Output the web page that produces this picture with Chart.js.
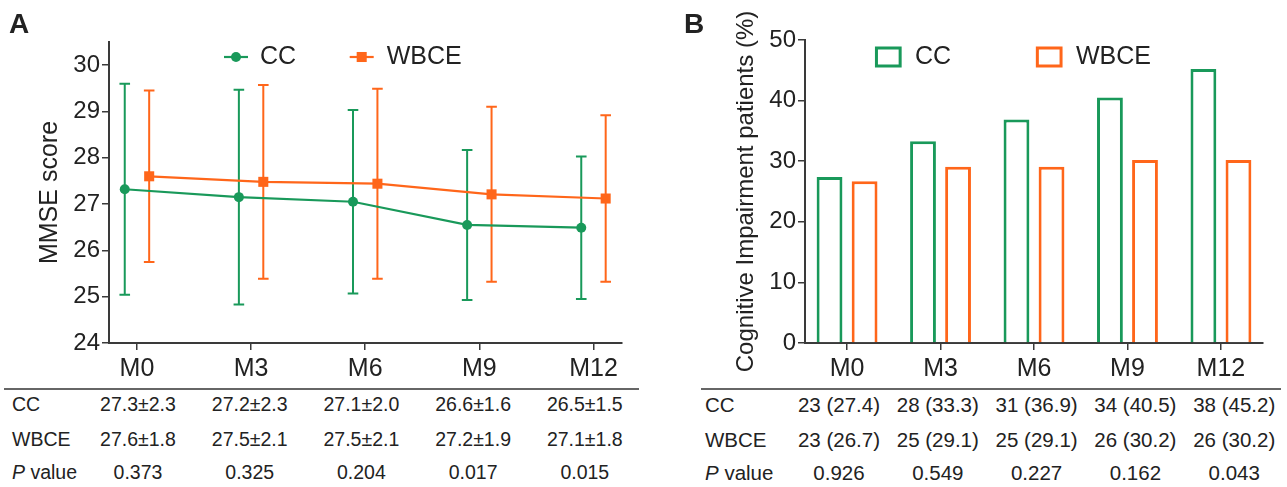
<!DOCTYPE html>
<html lang="en">
<head>
    <meta charset="UTF-8">
    <title>MMSE score and cognitive impairment, CC vs WBCE</title>
    <script src="https://cdn.jsdelivr.net/npm/chart.js"></script>
    <style>
        body { margin: 0; background: #fff; color: #222; font-family: 'Liberation Sans', Arial, sans-serif; }
        #page { position: relative; width: 1287px; height: 487px; overflow: hidden; }
        canvas { position: absolute; top: 0; }
        .panel-label { position: absolute; top: 10px; font-size: 28px; font-weight: bold; line-height: 1; }
        .rule { position: absolute; height: 2px; background: #666; }
        .cell { position: absolute; white-space: nowrap; line-height: 1; transform: translate(-50%, -50%); }
        .rowlabel { position: absolute; white-space: nowrap; line-height: 1; transform: translateY(-50%); }
    </style>
</head>
<body>
<div id="page">
    <canvas id="chartA" width="650" height="385" style="left:0"></canvas>
    <canvas id="chartB" width="627" height="385" style="left:660px"></canvas>
    <div class="panel-label" style="left:9px">A</div>
    <div class="panel-label" style="left:684px">B</div>
    <div id="tableA"></div>
    <div id="tableB"></div>
</div>
<script>
    // time points
    var months = ['M0', 'M3', 'M6', 'M9', 'M12'];

    // panel A: MMSE score, mean and SD
    var ccMean = [27.32, 27.15, 27.05, 26.55, 26.49];
    var ccSd = [2.28, 2.32, 1.98, 1.62, 1.54];
    var wbceMean = [27.60, 27.48, 27.44, 27.21, 27.12];
    var wbceSd = [1.85, 2.09, 2.05, 1.89, 1.80];

    // panel A table
    var ccScoreText = ['27.3±2.3', '27.2±2.3', '27.1±2.0', '26.6±1.6', '26.5±1.5'];
    var wbceScoreText = ['27.6±1.8', '27.5±2.1', '27.5±2.1', '27.2±1.9', '27.1±1.8'];
    var pScore = ['0.373', '0.325', '0.204', '0.017', '0.015'];

    // panel B: cognitive impairment patients, n and %
    var ccCount = [23, 28, 31, 34, 38];
    var ccPct = [27.4, 33.3, 36.9, 40.5, 45.2];
    var wbceCount = [23, 25, 25, 26, 26];
    var wbcePct = [26.7, 29.1, 29.1, 30.2, 30.2];
    var pImpair = ['0.926', '0.549', '0.227', '0.162', '0.043'];

    var green = '#19995a';
    var orange = '#ff661a';
    var axisColor = '#3a3a3a';
    var offsetA = 0.107; // side-by-side shift of the two groups in panel A

    Chart.defaults.font.family = "'Liberation Sans', Arial, sans-serif";
    Chart.defaults.color = '#222';

    // vertical SD bars with caps, drawn under the lines
    var errorBars = {
        id: 'errorBars',
        beforeDatasetsDraw: function(chart, args, opts) {
            var ctx = chart.ctx, x = chart.scales.x, y = chart.scales.y;
            ctx.save();
            ctx.lineWidth = opts.width;
            chart.data.datasets.forEach(function(ds) {
                ctx.strokeStyle = ds.borderColor;
                ds.data.forEach(function(p, i) {
                    var px = x.getPixelForValue(p.x);
                    var top = y.getPixelForValue(p.y + ds.sd[i]);
                    var bot = y.getPixelForValue(p.y - ds.sd[i]);
                    ctx.beginPath();
                    ctx.moveTo(px, top); ctx.lineTo(px, bot);
                    ctx.moveTo(px - opts.cap, top); ctx.lineTo(px + opts.cap, top);
                    ctx.moveTo(px - opts.cap, bot); ctx.lineTo(px + opts.cap, bot);
                    ctx.stroke();
                });
            });
            ctx.restore();
        }
    };

    // legend row inside the plot area
    var keyRow = {
        id: 'keyRow',
        afterDraw: function(chart, args, opts) {
            var ctx = chart.ctx, left = chart.chartArea.left;
            ctx.save();
            ctx.font = opts.font;
            ctx.textBaseline = 'middle';
            chart.data.datasets.forEach(function(ds, i) {
                var item = opts.items[i];
                var cx = left + item.symbol, cy = opts.y;
                ctx.strokeStyle = ds.borderColor;
                ctx.fillStyle = ds.borderColor;
                if (chart.config.type === 'line') {
                    ctx.lineWidth = ds.borderWidth;
                    ctx.beginPath();
                    ctx.moveTo(cx - 12, cy); ctx.lineTo(cx + 12, cy);
                    ctx.stroke();
                    if (ds.pointStyle === 'rect') {
                        var h = ds.pointRadius * Math.SQRT1_2;
                        ctx.fillRect(cx - h, cy - h, 2 * h, 2 * h);
                    } else {
                        ctx.beginPath();
                        ctx.arc(cx, cy, ds.pointRadius, 0, 2 * Math.PI);
                        ctx.fill();
                    }
                } else {
                    var w = opts.box[0], bh = opts.box[1], lw = ds.borderWidth;
                    ctx.lineWidth = lw;
                    ctx.strokeRect(cx - w / 2 + lw / 2, cy - bh / 2 + lw / 2, w - lw, bh - lw);
                }
                ctx.fillStyle = '#222';
                ctx.fillText(ds.label, left + item.text, cy);
            });
            ctx.restore();
        }
    };

    function monthTicks(scale) {
        scale.ticks = months.map(function(m, i) { return { value: i }; });
    }

    // Panel A: MMSE score
    var chartA = new Chart(document.getElementById('chartA'), {
        type: 'line',
        data: {
            datasets: [{
                label: 'CC',
                data: months.map(function(m, i) { return { x: i - offsetA, y: ccMean[i] }; }),
                sd: ccSd,
                borderColor: green,
                backgroundColor: green,
                borderWidth: 2.2,
                pointStyle: 'circle',
                pointRadius: 5,
                pointBorderWidth: 0,
                tension: 0
            }, {
                label: 'WBCE',
                data: months.map(function(m, i) { return { x: i + offsetA, y: wbceMean[i] }; }),
                sd: wbceSd,
                borderColor: orange,
                backgroundColor: orange,
                borderWidth: 2.2,
                pointStyle: 'rect',
                pointRadius: 7.1,
                pointBorderWidth: 0,
                tension: 0
            }]
        },
        options: {
            responsive: false,
            animation: false,
            layout: { padding: { left: 0, right: 28, top: 42, bottom: 0 } },
            plugins: {
                legend: { display: false },
                tooltip: { enabled: false },
                errorBars: { width: 2, cap: 5.3 },
                keyRow: {
                    font: "25px 'Liberation Sans', Arial, sans-serif",
                    y: 57,
                    items: [{ symbol: 127, text: 151 }, { symbol: 252.7, text: 277.7 }]
                }
            },
            scales: {
                x: {
                    type: 'linear',
                    offset: false,
                    min: -0.245,
                    max: 4.25,
                    afterBuildTicks: monthTicks,
                    afterFit: function(s) { s.height = 42; },
                    ticks: {
                        callback: function(v) { return months[v]; },
                        font: { size: 25 },
                        padding: 4
                    },
                    grid: { drawOnChartArea: false, tickLength: 7, color: axisColor, lineWidth: 1.5 },
                    border: { color: axisColor, width: 2 }
                },
                y: {
                    min: 24,
                    max: 30.5,
                    afterFit: function(s) { s.width = 109; },
                    ticks: { stepSize: 1, includeBounds: false, font: { size: 24 }, padding: 2 },
                    grid: { drawOnChartArea: false, tickLength: 7, color: axisColor, lineWidth: 1.5 },
                    border: { color: axisColor, width: 2 },
                    title: { display: true, text: 'MMSE score', font: { size: 25 }, padding: { top: 35 } }
                }
            }
        },
        plugins: [errorBars, keyRow]
    });

    // Panel B: cognitive impairment patients (%)
    var chartB = new Chart(document.getElementById('chartB'), {
        type: 'bar',
        data: {
            datasets: [{
                label: 'CC',
                data: months.map(function(m, i) { return { x: i, y: ccPct[i] }; }),
                borderColor: green,
                backgroundColor: '#fff',
                borderWidth: 3,
                categoryPercentage: 0.75,
                barPercentage: 0.737
            }, {
                label: 'WBCE',
                data: months.map(function(m, i) { return { x: i, y: wbcePct[i] }; }),
                borderColor: orange,
                backgroundColor: '#fff',
                borderWidth: 3,
                categoryPercentage: 0.75,
                barPercentage: 0.737
            }]
        },
        options: {
            responsive: false,
            animation: false,
            layout: { padding: { left: 0, right: 24, top: 40, bottom: 0 } },
            plugins: {
                legend: { display: false },
                tooltip: { enabled: false },
                keyRow: {
                    font: "25px 'Liberation Sans', Arial, sans-serif",
                    y: 57,
                    box: [26.7, 21],
                    items: [{ symbol: 83.3, text: 110 }, { symbol: 244.2, text: 271 }]
                }
            },
            scales: {
                x: {
                    type: 'linear',
                    offset: false,
                    min: -0.45,
                    max: 4.45,
                    afterBuildTicks: monthTicks,
                    afterFit: function(s) { s.height = 42; },
                    ticks: {
                        callback: function(v) { return months[v]; },
                        font: { size: 25 },
                        padding: 4
                    },
                    grid: { drawOnChartArea: false, offset: false, tickLength: 7, color: axisColor, lineWidth: 1.5 },
                    border: { color: axisColor, width: 2 }
                },
                y: {
                    min: 0,
                    max: 50,
                    afterFit: function(s) { s.width = 145; },
                    ticks: { stepSize: 10, font: { size: 24 }, padding: 2 },
                    grid: { drawOnChartArea: false, tickLength: 7, color: axisColor, lineWidth: 1.5 },
                    border: { color: axisColor, width: 2 },
                    title: { display: true, text: 'Cognitive Impairment patients (%)', font: { size: 24 }, padding: { top: 72 } }
                }
            }
        },
        plugins: [keyRow]
    });

    // tables under the x axes
    function buildTable(el, t) {
        var html = '<div class="rule" style="left:' + t.ruleLeft + 'px;width:' + t.ruleWidth + 'px;top:388px"></div>';
        t.rows.forEach(function(row, r) {
            var y = t.rowY[r];
            html += '<div class="rowlabel" style="left:' + t.labelX + 'px;top:' + y + 'px;font-size:' + t.size + 'px">' + row[0] + '</div>';
            row[1].forEach(function(txt, i) {
                var x = t.firstCol + i * t.colStep;
                html += '<div class="cell" style="left:' + x + 'px;top:' + y + 'px;font-size:' + t.size + 'px">' + txt + '</div>';
            });
        });
        el.innerHTML = html;
    }

    var ccImpairText = ccCount.map(function(n, i) { return n + ' (' + ccPct[i].toFixed(1) + ')'; });
    var wbceImpairText = wbceCount.map(function(n, i) { return n + ' (' + wbcePct[i].toFixed(1) + ')'; });

    buildTable(document.getElementById('tableA'), {
        ruleLeft: 4, ruleWidth: 635, labelX: 12, size: 19.5,
        firstCol: 138, colStep: 111.7, rowY: [405, 439.5, 472.5],
        rows: [['CC', ccScoreText], ['WBCE', wbceScoreText], ['<i>P</i> value', pScore]]
    });
    buildTable(document.getElementById('tableB'), {
        ruleLeft: 701, ruleWidth: 580, labelX: 705, size: 20.5,
        firstCol: 839, colStep: 98.8, rowY: [405, 439.5, 472.5],
        rows: [['CC', ccImpairText], ['WBCE', wbceImpairText], ['<i>P</i> value', pImpair]]
    });
</script>
</body>
</html>
